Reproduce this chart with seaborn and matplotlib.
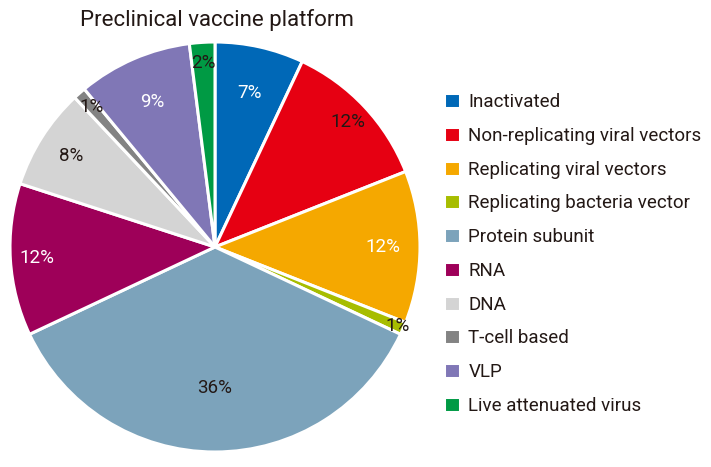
import numpy as np
import seaborn as sns
import matplotlib.pyplot as plt

# data
platforms = ["Inactivated", "Non-replicating viral vectors", "Replicating viral vectors",
             "Replicating bacteria vector", "Protein subunit", "RNA", "DNA",
             "T-cell based", "VLP", "Live attenuated virus"]
shares = [7, 12, 12, 1, 36, 12, 8, 1, 9, 2]
colors = ["#0068b7", "#e60012", "#f5a800", "#a7bd00", "#7ca3bb",
          "#9e0059", "#d4d4d4", "#838383", "#8077b6", "#009a44"]
label_colors = ["white", "#231815", "white", "#231815", "#231815",
                "white", "#231815", "#231815", "white", "#231815"]
label_radius = [0.77, 0.89, 0.82, 0.97, 0.69, 0.87, 0.83, 0.91, 0.77, 0.90]

sns.set_theme(style="white")
plt.rcParams['font.family'] = ['Roboto', 'DejaVu Sans']

fig = plt.figure(figsize=(7.11, 4.67), dpi=100)
ax = fig.add_axes([10 / 711, 15 / 467, 410 / 711, 410 / 467])

wedges, _ = ax.pie(shares, colors=colors, startangle=90, counterclock=False,
                   wedgeprops=dict(edgecolor="white", linewidth=2.2))
ax.set_xlim(-1, 1)
ax.set_ylim(-1, 1)
ax.set_aspect("equal")

# percentage labels
for w, val, c, r in zip(wedges, shares, label_colors, label_radius):
    ang = np.deg2rad((w.theta1 + w.theta2) / 2)
    ax.text(r * np.cos(ang), r * np.sin(ang), f"{val}%", color=c,
            ha="center", va="center", fontsize=13.5)

fig.text(217 / 711, 1 - 20 / 467, "Preclinical vaccine platform", ha="center", va="center",
         fontsize=16, color="#231815")

fig.legend(wedges, platforms, loc="center left", bbox_to_anchor=(427 / 711, 1 - 254 / 467),
           frameon=False, fontsize=13.5, handlelength=0.85, handleheight=0.85,
           handletextpad=0.45, labelspacing=0.84, labelcolor="#231815")

fig.savefig("out.png", dpi=100)
